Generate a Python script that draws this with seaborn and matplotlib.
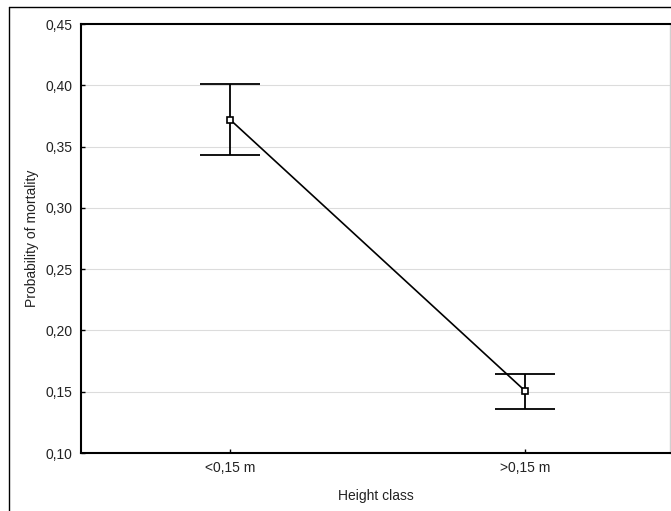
import matplotlib
matplotlib.use("Agg")
import matplotlib.pyplot as plt
import seaborn as sns
import pandas as pd
from matplotlib.lines import Line2D

categories = ["<0,15 m", ">0,15 m"]
means = [0.372, 0.1505]
upper = [0.401, 0.1645]
lower = [0.343, 0.136]
yticks = [0.10, 0.15, 0.20, 0.25, 0.30, 0.35, 0.40, 0.45]
ytick_labels = ["0,10", "0,15", "0,20", "0,25", "0,30", "0,35", "0,40", "0,45"]

sns.set_theme(style="white")
plt.rcParams["font.family"] = ["Liberation Sans", "DejaVu Sans"]

df = pd.DataFrame({"Height class": categories, "Probability of mortality": means})

fig = plt.figure(figsize=(6.71, 5.11), dpi=100)
ax = fig.add_axes([81 / 671, 58 / 511, 589 / 671, 429 / 511])

for y in yticks[1:-1]:
    ax.axhline(y, color="#dcdcdc", lw=0.8, zorder=0)

yerr = [[m - l for m, l in zip(means, lower)], [u - m for m, u in zip(means, upper)]]
ax.errorbar(categories, means, yerr=yerr, fmt="none", ecolor="black",
            elinewidth=1.3, capsize=21.6, capthick=1.3, zorder=2)
sns.lineplot(data=df, x="Height class", y="Probability of mortality", ax=ax,
             color="black", lw=1.2, marker="s", markersize=5,
             markerfacecolor="white", markeredgecolor="black",
             markeredgewidth=1.2, zorder=3)

ax.set_xlim(-0.505, 1.49)
ax.set_ylim(0.10, 0.45)
ax.set_yticks(yticks)
ax.set_yticklabels(ytick_labels)
ax.tick_params(axis="both", direction="in", length=3, width=1, colors="black",
               labelsize=10, labelcolor="#222222", pad=6, left=True, bottom=True)

for side in ["left", "bottom", "top"]:
    ax.spines[side].set_color("black")
    ax.spines[side].set_linewidth(1.5)
ax.spines["right"].set_color("#d0d0d0")
ax.spines["right"].set_linewidth(1.0)

ax.set_xlabel("Height class", fontsize=10, color="#222222", labelpad=10)
ax.set_ylabel("Probability of mortality", fontsize=10, color="#222222", labelpad=5)

fig.add_artist(Line2D([8.5 / 671, 8.5 / 671], [0, 1 - 7.5 / 511],
                      transform=fig.transFigure, color="black", lw=1.0))
fig.add_artist(Line2D([8.5 / 671, 1.0], [1 - 7.5 / 511, 1 - 7.5 / 511],
                      transform=fig.transFigure, color="black", lw=1.0))

fig.savefig("out.png", dpi=100)
